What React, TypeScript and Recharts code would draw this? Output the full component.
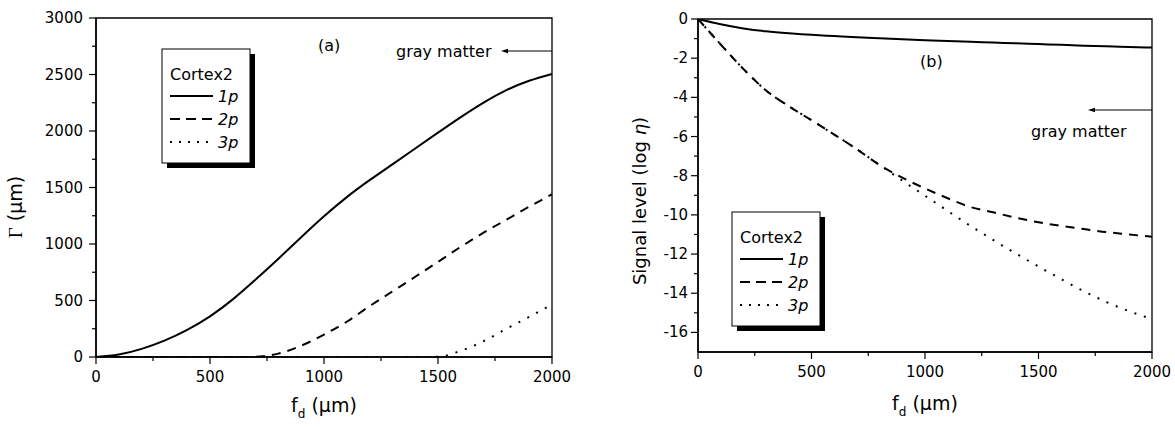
import React from 'react';
import { LineChart, Line, XAxis, YAxis, ReferenceArea } from 'recharts';

const FONT = '"DejaVu Sans", sans-serif';

// focal depth f_d (µm), shared by both panels
const fd = [0, 100, 200, 300, 400, 500, 600, 700, 800, 900, 1000, 1100, 1200, 1300, 1400, 1500, 1600, 1700, 1800, 1900, 2000];

// panel (a): Γ (µm)
const gamma1p = [0, 22, 72, 145, 240, 360, 510, 685, 870, 1060, 1245, 1415, 1565, 1705, 1845, 1985, 2123, 2252, 2362, 2445, 2505];
const gamma2p = [0, 0, 0, 0, 0, 0, 0, 2, 30, 100, 198, 312, 450, 580, 710, 842, 975, 1100, 1215, 1330, 1440];
const gamma3p = [0, 0, 0, 0, 0, 0, 0, 0, 0, 0, 0, 0, 0, 0, 0, 2, 55, 140, 250, 355, 465];

// panel (b): signal level (log η)
const signal1p = [0, -0.27, -0.48, -0.63, -0.73, -0.81, -0.87, -0.93, -0.98, -1.03, -1.08, -1.12, -1.16, -1.2, -1.24, -1.28, -1.32, -1.36, -1.39, -1.43, -1.46];
const signal2p = [0, -1.3, -2.55, -3.65, -4.45, -5.17, -5.9, -6.65, -7.45, -8.1, -8.65, -9.15, -9.6, -9.87, -10.14, -10.38, -10.56, -10.72, -10.88, -11.0, -11.12];
const signal3p = [0, -1.3, -2.55, -3.65, -4.45, -5.17, -5.9, -6.65, -7.45, -8.25, -9.02, -9.8, -10.56, -11.28, -11.97, -12.64, -13.28, -13.9, -14.45, -14.92, -15.32];

const seriesNames = ['1p', '2p', '3p'];
const legendTitle = 'Cortex2';

const xTicks = [0, 250, 500, 750, 1000, 1250, 1500, 1750, 2000];
const xMajor = [0, 500, 1000, 1500, 2000];
const yTicksA = [0, 250, 500, 750, 1000, 1250, 1500, 1750, 2000, 2250, 2500, 2750, 3000];
const yMajorA = [0, 500, 1000, 1500, 2000, 2500, 3000];
const yTicksB = [0, -1, -2, -3, -4, -5, -6, -7, -8, -9, -10, -11, -12, -13, -14, -15, -16];
const yMajorB = [0, -2, -4, -6, -8, -10, -12, -14, -16];

const dataA = fd.map((x, i) => ({ fd: x, p1: gamma1p[i], p2: gamma2p[i], p3: gamma3p[i] }));
const dataB = fd.map((x, i) => ({ fd: x, p1: signal1p[i], p2: signal2p[i], p3: signal3p[i] }));

const dashes = [undefined, '9 7', '2 8'];
const curves: any[] = ['natural', 'monotone', 'monotone'];

const makeYTick = (majors: number[], gap: number) => (props: any) => {
  const { x, y, payload } = props;
  const major = majors.includes(payload.value);
  return (
    <g>
      <line x1={x} x2={x - (major ? 7 : 4)} y1={y} y2={y} stroke="#000" strokeWidth={1.2} />
      {major && (
        <text x={x - gap} y={y} textAnchor="end" dominantBaseline="central" fontFamily={FONT} fontSize={15} fill="#000">
          {payload.value}
        </text>
      )}
    </g>
  );
};

const XTick = (props: any) => {
  const { x, y, payload } = props;
  const major = xMajor.includes(payload.value);
  return (
    <g>
      <line x1={x} x2={x} y1={y} y2={y + (major ? 7 : 4)} stroke="#000" strokeWidth={1.2} />
      {major && (
        <text x={x} y={y + 20} textAnchor="middle" dominantBaseline="central" fontFamily={FONT} fontSize={15} fill="#000">
          {payload.value}
        </text>
      )}
    </g>
  );
};

function Legend({ left, top }: { left: number; top: number }) {
  return (
    <g transform={`translate(${left},${top})`}>
      <rect x={5} y={5} width={88} height={114} fill="#000" />
      <rect x={0} y={0} width={88} height={114} fill="#fff" stroke="#000" strokeWidth={1} />
      <text x={8} y={31} fontFamily={FONT} fontSize={16} fill="#000">{legendTitle}</text>
      {seriesNames.map((name, i) => {
        const cy = 47 + i * 23;
        return (
          <g key={name}>
            <line x1={8} x2={51} y1={cy} y2={cy} stroke="#000" strokeWidth={2} strokeDasharray={i === 1 ? '10 6' : i === 2 ? '2 7' : undefined} />
            <text x={56} y={cy + 6} fontFamily={FONT} fontSize={16} fontStyle="italic" fill="#000">{name}</text>
          </g>
        );
      })}
    </g>
  );
}

function Arrow({ x1, x2, y }: { x1: number; x2: number; y: number }) {
  return (
    <g>
      <line x1={x1 + 5} x2={x2} y1={y} y2={y} stroke="#000" strokeWidth={1} />
      <polygon points={`${x1},${y} ${x1 + 7},${y - 2.2} ${x1 + 7},${y + 2.2}`} fill="#000" />
    </g>
  );
}

function Panel({ data, yDomain, yTicks, yMajor, gap, frame }: any) {
  return (
    <LineChart width={frame.width} height={427} data={data} margin={{ top: frame.top, right: frame.right, bottom: frame.bottom, left: 0 }}>
      <XAxis
        dataKey="fd" type="number" domain={[0, 2000]} ticks={xTicks} interval={0}
        tickSize={0} tickMargin={0} height={40} tickLine={false}
        axisLine={{ stroke: '#000', strokeWidth: 1.5 }} tick={XTick}
      />
      <YAxis
        type="number" domain={yDomain} ticks={yTicks} interval={0} allowDataOverflow
        tickSize={0} tickMargin={0} width={frame.yWidth} tickLine={false}
        axisLine={{ stroke: '#000', strokeWidth: 1.5 }} tick={makeYTick(yMajor, gap)}
      />
      <ReferenceArea x1={0} x2={2000} y1={yDomain[0]} y2={yDomain[1]} fill="none" stroke="#000" strokeWidth={1.3} />
      {['p1', 'p2', 'p3'].map((k, i) => (
        <Line
          key={k} type={curves[i]} dataKey={k} stroke="#000" strokeWidth={2}
          strokeDasharray={dashes[i]} dot={false} activeDot={false} isAnimationActive={false}
        />
      ))}
    </LineChart>
  );
}

export default function App() {
  return (
    <div style={{ position: 'absolute', left: 0, top: 0, width: 1175, height: 427, background: '#fff', overflow: 'hidden' }}>
      <div style={{ position: 'absolute', left: 0, top: 0 }}>
        <Panel data={dataA} yDomain={[0, 3000]} yTicks={yTicksA} yMajor={yMajorA} gap={13}
          frame={{ width: 585, right: 33, top: 18, bottom: 30, yWidth: 96 }} />
      </div>
      <div style={{ position: 'absolute', left: 600, top: 0 }}>
        <Panel data={dataB} yDomain={[-17, 0]} yTicks={yTicksB} yMajor={yMajorB} gap={10}
          frame={{ width: 575, right: 23, top: 19, bottom: 35, yWidth: 98 }} />
      </div>
      <svg width={1175} height={427} style={{ position: 'absolute', left: 0, top: 0, pointerEvents: 'none' }}>
        {/* panel (a) annotations */}
        <text x={318} y={51} fontFamily={FONT} fontSize={16} fill="#000">(a)</text>
        <text x={396} y={57} fontFamily={FONT} fontSize={16} fill="#000">gray matter</text>
        <Arrow x1={501} x2={552} y={51} />
        <Legend left={162} top={49} />
        <text x={324} y={412} textAnchor="middle" fontFamily={FONT} fontSize={19} fill="#000">
          f<tspan dy={6} fontSize={12}>d</tspan><tspan dy={-6}> (μm)</tspan>
        </text>
        <text transform="translate(22,207) rotate(-90)" textAnchor="middle" fontFamily={FONT} fontSize={19} fill="#000">
          <tspan fontFamily='"Liberation Serif", serif'>Γ</tspan> (μm)
        </text>

        {/* panel (b) annotations */}
        <text x={920} y={67} fontFamily={FONT} fontSize={16} fill="#000">(b)</text>
        <text x={1031} y={137} fontFamily={FONT} fontSize={16} fill="#000">gray matter</text>
        <Arrow x1={1088} x2={1152} y={110} />
        <Legend left={732} top={212} />
        <text x={925} y={410} textAnchor="middle" fontFamily={FONT} fontSize={19} fill="#000">
          f<tspan dy={6} fontSize={12}>d</tspan><tspan dy={-6}> (μm)</tspan>
        </text>
        <text transform="translate(646,201) rotate(-90)" textAnchor="middle" fontFamily={FONT} fontSize={18} fill="#000">
          Signal level (log <tspan fontStyle="italic">η</tspan>)
        </text>
      </svg>
    </div>
  );
}
